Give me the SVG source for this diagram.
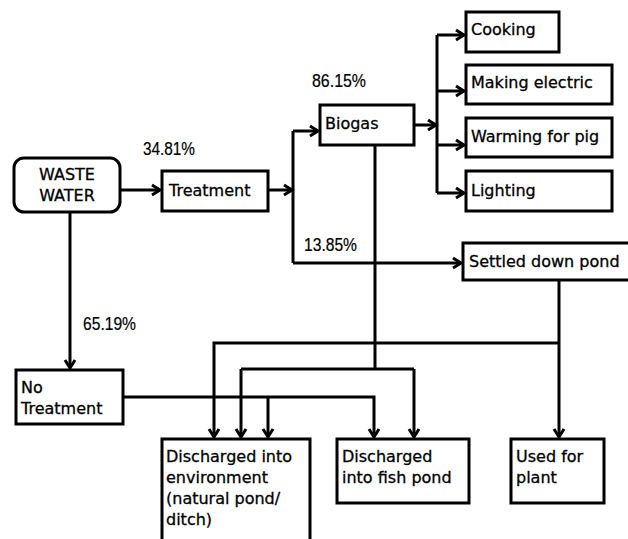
<svg xmlns="http://www.w3.org/2000/svg" width="628" height="539" viewBox="0 0 628 539">
<style>
.box{fill:#fff;stroke:#000;stroke-width:3}
.ln{fill:none;stroke:#000;stroke-width:3}
text{font-family:"DejaVu Sans","Liberation Sans",sans-serif;font-size:16px;fill:#000;stroke:#000;stroke-width:0.3}
.pct{font-family:"Liberation Sans",Arial,sans-serif;font-size:18px;stroke-width:0.2}
</style>
<defs>
<marker id="ah" markerUnits="userSpaceOnUse" markerWidth="14" markerHeight="14" refX="10" refY="6" orient="auto" viewBox="0 0 14 12">
<path d="M2,1 L10,6 L2,11" fill="none" stroke="#000" stroke-width="3"/>
</marker>
</defs>
<rect width="628" height="539" fill="#fff"/>
<g id="connectors">
<path class="ln" d="M120,190 H160" marker-end="url(#ah)"/>
<path class="ln" d="M268,190 H292" marker-end="url(#ah)"/>
<path class="ln" d="M293,131 V263"/>
<path class="ln" d="M293,131 H318" marker-end="url(#ah)"/>
<path class="ln" d="M293,263 H461" marker-end="url(#ah)"/>
<path class="ln" d="M414,125 H436" marker-end="url(#ah)"/>
<path class="ln" d="M437,35 V193"/>
<path class="ln" d="M437,35 H464" marker-end="url(#ah)"/>
<path class="ln" d="M437,91 H464" marker-end="url(#ah)"/>
<path class="ln" d="M437,145 H464" marker-end="url(#ah)"/>
<path class="ln" d="M437,193 H464" marker-end="url(#ah)"/>
<path class="ln" d="M70,212 V368" marker-end="url(#ah)"/>
<path class="ln" d="M375,145 V369"/>
<path class="ln" d="M241,369 H414"/>
<path class="ln" d="M241,369 V437" marker-end="url(#ah)"/>
<path class="ln" d="M414,369 V437" marker-end="url(#ah)"/>
<path class="ln" d="M559,280 V437" marker-end="url(#ah)"/>
<path class="ln" d="M559,343 H214 V437" marker-end="url(#ah)"/>
<path class="ln" d="M123,397 H374 V437" marker-end="url(#ah)"/>
<path class="ln" d="M268,397 V437" marker-end="url(#ah)"/>
</g>
<g id="waste-water">
<rect class="box" x="14" y="158" width="106" height="54" rx="10"/>
<text x="67" y="180" text-anchor="middle">WASTE</text>
<text x="67" y="201" text-anchor="middle">WATER</text>
</g>
<g id="treatment">
<rect class="box" x="162" y="171" width="106" height="40"/>
<text x="169" y="196">Treatment</text>
</g>
<g id="biogas">
<rect class="box" x="320" y="105" width="94" height="40"/>
<text x="325" y="129">Biogas</text>
</g>
<g id="cooking">
<rect class="box" x="466" y="12" width="93" height="40"/>
<text x="471" y="35">Cooking</text>
</g>
<g id="making-electric">
<rect class="box" x="466" y="65" width="146" height="39"/>
<text x="471" y="88">Making electric</text>
</g>
<g id="warming">
<rect class="box" x="466" y="118" width="146" height="39"/>
<text x="471" y="142">Warming for pig</text>
</g>
<g id="lighting">
<rect class="box" x="466" y="171" width="146" height="40"/>
<text x="471" y="196">Lighting</text>
</g>
<g id="settled">
<rect class="box" x="463" y="243" width="170" height="37"/>
<text x="469" y="267">Settled down pond</text>
</g>
<g id="no-treatment">
<rect class="box" x="16" y="370" width="107" height="54"/>
<text x="21" y="393">No</text>
<text x="21" y="414">Treatment</text>
</g>
<g id="environment">
<rect class="box" x="162" y="439" width="148" height="110"/>
<text x="166" y="462">Discharged into</text>
<text x="166" y="483">environment</text>
<text x="166" y="504">(natural pond/</text>
<text x="166" y="525">ditch)</text>
</g>
<g id="fish-pond">
<rect class="box" x="337" y="439" width="132" height="64"/>
<text x="342" y="462">Discharged</text>
<text x="342" y="483">into fish pond</text>
</g>
<g id="plant">
<rect class="box" x="511" y="439" width="93" height="64"/>
<text x="516" y="462">Used for</text>
<text x="516" y="483">plant</text>
</g>
<g id="labels">
<text class="pct" x="143" y="155" textLength="52" lengthAdjust="spacingAndGlyphs">34.81%</text>
<text class="pct" x="312" y="87" textLength="54" lengthAdjust="spacingAndGlyphs">86.15%</text>
<text class="pct" x="304" y="251" textLength="53" lengthAdjust="spacingAndGlyphs">13.85%</text>
<text class="pct" x="83" y="330" textLength="53" lengthAdjust="spacingAndGlyphs">65.19%</text>
</g>
</svg>
